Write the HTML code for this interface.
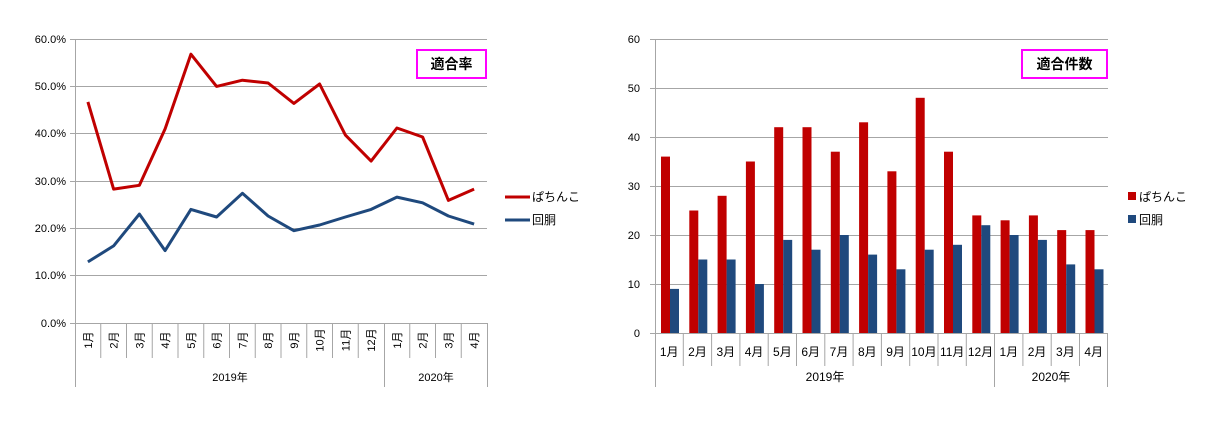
<!DOCTYPE html>
<html><head><meta charset="utf-8"><style>
body{margin:0;background:#fff}
svg{display:block}
text{font-family:"Liberation Sans","Noto Sans CJK JP",sans-serif;font-size:11px;fill:#000}
</style></head><body>
<svg width="1215" height="421" viewBox="0 0 1215 421" xmlns="http://www.w3.org/2000/svg">
<g stroke="#a6a6a6" stroke-width="1">
<line x1="75" x2="487" y1="39.5" y2="39.5"/><line x1="75" x2="487" y1="86.5" y2="86.5"/><line x1="75" x2="487" y1="133.5" y2="133.5"/><line x1="75" x2="487" y1="181.5" y2="181.5"/><line x1="75" x2="487" y1="228.5" y2="228.5"/><line x1="75" x2="487" y1="275.5" y2="275.5"/><line x1="70" x2="487" y1="323.5" y2="323.5"/>
<line x1="70" x2="75" y1="39.5" y2="39.5"/><line x1="70" x2="75" y1="86.5" y2="86.5"/><line x1="70" x2="75" y1="133.5" y2="133.5"/><line x1="70" x2="75" y1="181.5" y2="181.5"/><line x1="70" x2="75" y1="228.5" y2="228.5"/><line x1="70" x2="75" y1="275.5" y2="275.5"/>
<line x1="75.5" x2="75.5" y1="39" y2="387"/><line x1="384.5" x2="384.5" y1="323" y2="387"/><line x1="487.5" x2="487.5" y1="323" y2="387"/>
<path d="M100.75 323V358M126.5 323V358M152.25 323V358M178 323V358M203.75 323V358M229.5 323V358M255.25 323V358M281 323V358M306.75 323V358M332.5 323V358M358.25 323V358M409.75 323V358M435.5 323V358M461.25 323V358"/>
</g>
<g text-anchor="end">
<text x="66" y="43">60.0%</text><text x="66" y="90">50.0%</text><text x="66" y="137">40.0%</text><text x="66" y="185">30.0%</text><text x="66" y="232">20.0%</text><text x="66" y="279">10.0%</text><text x="66" y="327">0.0%</text>
</g>
<g text-anchor="middle">
<text transform="translate(92,340) rotate(-90)">1月</text><text transform="translate(117.6,340) rotate(-90)">2月</text><text transform="translate(143.4,340) rotate(-90)">3月</text><text transform="translate(169.1,340) rotate(-90)">4月</text><text transform="translate(194.9,340) rotate(-90)">5月</text><text transform="translate(220.6,340) rotate(-90)">6月</text><text transform="translate(246.4,340) rotate(-90)">7月</text><text transform="translate(272.1,340) rotate(-90)">8月</text><text transform="translate(297.9,340) rotate(-90)">9月</text><text transform="translate(323.6,340) rotate(-90)">10月</text><text transform="translate(349.4,340) rotate(-90)">11月</text><text transform="translate(375.1,340) rotate(-90)">12月</text><text transform="translate(400.9,340) rotate(-90)">1月</text><text transform="translate(426.6,340) rotate(-90)">2月</text><text transform="translate(452.4,340) rotate(-90)">3月</text><text transform="translate(478.1,340) rotate(-90)">4月</text>
<text x="230" y="381">2019年</text><text x="436" y="381">2020年</text>
</g>
<polyline fill="none" stroke="#c00000" stroke-width="3" stroke-linejoin="round" points="87.9,101.9 113.6,189.1 139.4,185.3 165.1,128.9 190.9,54.2 216.6,86.4 242.4,80.2 268.1,83 293.9,103.4 319.6,84 345.4,135.1 371.1,161.1 396.9,128 422.6,137 448.4,200.4 474.1,189.1"/>
<polyline fill="none" stroke="#1f497d" stroke-width="3" stroke-linejoin="round" points="87.9,261.9 113.6,245.9 139.4,214.1 165.1,250.6 190.9,209.4 216.6,217 242.4,193.3 268.1,216 293.9,230.7 319.6,225 345.4,217 371.1,209.4 396.9,197.1 422.6,202.8 448.4,216 474.1,224.1"/>
<rect x="417" y="50" width="69" height="28" fill="#fff" stroke="#ff00ff" stroke-width="2"/>
<text x="451.5" y="69" text-anchor="middle" style="font-size:14px;font-weight:bold">適合率</text>
<line x1="505" x2="530" y1="197" y2="197" stroke="#c00000" stroke-width="3"/>
<line x1="505" x2="530" y1="220" y2="220" stroke="#1f497d" stroke-width="3"/>
<text x="532" y="201" style="font-size:12px">ぱちんこ</text><text x="532" y="224" style="font-size:12px">回胴</text>

<g stroke="#a6a6a6" stroke-width="1">
<line x1="650" x2="1108" y1="39.5" y2="39.5"/><line x1="650" x2="1108" y1="88.5" y2="88.5"/><line x1="650" x2="1108" y1="137.5" y2="137.5"/><line x1="650" x2="1108" y1="186.5" y2="186.5"/><line x1="650" x2="1108" y1="235.5" y2="235.5"/><line x1="650" x2="1108" y1="284.5" y2="284.5"/><line x1="650" x2="1108" y1="333.5" y2="333.5"/>
<line x1="655.5" x2="655.5" y1="39" y2="387"/><line x1="994.5" x2="994.5" y1="333" y2="387"/><line x1="1107.5" x2="1107.5" y1="333" y2="387"/>
<path d="M683.3 333V366M711.6 333V366M739.9 333V366M768.2 333V366M796.5 333V366M824.8 333V366M853.1 333V366M881.4 333V366M909.7 333V366M938 333V366M966.3 333V366M1022.9 333V366M1051.2 333V366M1079.5 333V366"/>
</g>
<g text-anchor="end">
<text x="640" y="43">60</text><text x="640" y="92">50</text><text x="640" y="141">40</text><text x="640" y="190">30</text><text x="640" y="239">20</text><text x="640" y="288">10</text><text x="640" y="337">0</text>
</g>
<g fill="#c00000">
<rect x="661" y="156.6" width="9" height="176.4"/><rect x="689.3" y="210.5" width="9" height="122.5"/><rect x="717.6" y="195.8" width="9" height="137.2"/><rect x="745.9" y="161.5" width="9" height="171.5"/><rect x="774.2" y="127.2" width="9" height="205.8"/><rect x="802.5" y="127.2" width="9" height="205.8"/><rect x="830.8" y="151.7" width="9" height="181.3"/><rect x="859.1" y="122.3" width="9" height="210.7"/><rect x="887.4" y="171.3" width="9" height="161.7"/><rect x="915.7" y="97.8" width="9" height="235.2"/><rect x="944" y="151.7" width="9" height="181.3"/><rect x="972.3" y="215.4" width="9" height="117.6"/><rect x="1000.6" y="220.3" width="9" height="112.7"/><rect x="1028.9" y="215.4" width="9" height="117.6"/><rect x="1057.2" y="230.1" width="9" height="102.9"/><rect x="1085.5" y="230.1" width="9" height="102.9"/>
</g>
<g fill="#1f497d">
<rect x="670" y="288.9" width="9" height="44.1"/><rect x="698.3" y="259.5" width="9" height="73.5"/><rect x="726.6" y="259.5" width="9" height="73.5"/><rect x="754.9" y="284" width="9" height="49"/><rect x="783.2" y="239.9" width="9" height="93.1"/><rect x="811.5" y="249.7" width="9" height="83.3"/><rect x="839.8" y="235" width="9" height="98"/><rect x="868.1" y="254.6" width="9" height="78.4"/><rect x="896.4" y="269.3" width="9" height="63.7"/><rect x="924.7" y="249.7" width="9" height="83.3"/><rect x="953" y="244.8" width="9" height="88.2"/><rect x="981.3" y="225.2" width="9" height="107.8"/><rect x="1009.6" y="235" width="9" height="98"/><rect x="1037.9" y="239.9" width="9" height="93.1"/><rect x="1066.2" y="264.4" width="9" height="68.6"/><rect x="1094.5" y="269.3" width="9" height="63.7"/>
</g>
<g text-anchor="middle" style="font-size:12px">
<text x="669.2" y="356" style="font-size:12px">1月</text><text x="697.5" y="356" style="font-size:12px">2月</text><text x="725.8" y="356" style="font-size:12px">3月</text><text x="754.1" y="356" style="font-size:12px">4月</text><text x="782.4" y="356" style="font-size:12px">5月</text><text x="810.7" y="356" style="font-size:12px">6月</text><text x="839" y="356" style="font-size:12px">7月</text><text x="867.3" y="356" style="font-size:12px">8月</text><text x="895.6" y="356" style="font-size:12px">9月</text><text x="923.9" y="356" style="font-size:12px">10月</text><text x="952.2" y="356" style="font-size:12px">11月</text><text x="980.5" y="356" style="font-size:12px">12月</text><text x="1008.8" y="356" style="font-size:12px">1月</text><text x="1037.1" y="356" style="font-size:12px">2月</text><text x="1065.4" y="356" style="font-size:12px">3月</text><text x="1093.7" y="356" style="font-size:12px">4月</text>
<text x="825" y="381" style="font-size:12px">2019年</text><text x="1051" y="381" style="font-size:12px">2020年</text>
</g>
<rect x="1022" y="50" width="85" height="28" fill="#fff" stroke="#ff00ff" stroke-width="2"/>
<text x="1064.5" y="69" text-anchor="middle" style="font-size:14px;font-weight:bold">適合件数</text>
<rect x="1128" y="192" width="8" height="8" fill="#c00000"/><rect x="1128" y="215" width="8" height="8" fill="#1f497d"/>
<text x="1139" y="201" style="font-size:12px">ぱちんこ</text><text x="1139" y="224" style="font-size:12px">回胴</text>
</svg>
</body></html>
